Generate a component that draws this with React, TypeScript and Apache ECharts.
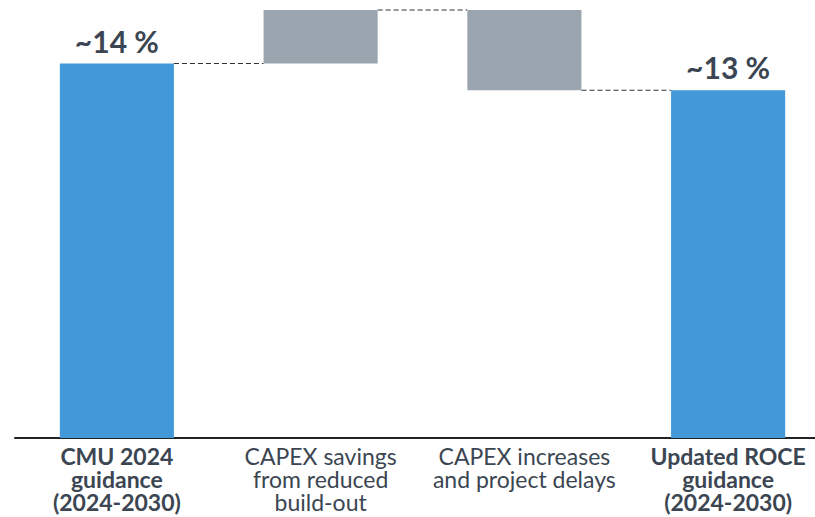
import React, { useEffect, useRef } from "react";
import * as echarts from "echarts";

const categories = [
  "CMU 2024\nguidance\n(2024-2030)",
  "CAPEX savings\nfrom reduced\nbuild-out",
  "CAPEX increases\nand project delays",
  "Updated ROCE\nguidance\n(2024-2030)",
];
const boldCategories = [true, false, false, true];
const baseValues = [0, 14, 13, 0];
const barValues = [14, 2, 3, 13];
const connectorLevels = [14, 16, 13];
const valueLabels = ["~14 %", "", "", "~13 %"];
const isTotal = [true, false, false, true];

const BLUE = "#4398da";
const GREY = "#9ba5af";
const TEXT = "#3b4652";

export default function App() {
  const ref = useRef<HTMLDivElement>(null);
  useEffect(() => {
    if (!ref.current) return;
    const chart = echarts.init(ref.current, null, { renderer: "svg" });
    const barWidthRatio = 0.56;
    chart.setOption({
      animation: false,
      grid: { left: 15, right: 0, top: 10, bottom: 79, containLabel: false },
      xAxis: {
        type: "category",
        data: categories.map((c, i) => ({
          value: c,
          textStyle: { fontWeight: boldCategories[i] ? "bold" : "normal" },
        })),
        axisTick: { show: false },
        axisLine: { show: true, lineStyle: { color: "#222", width: 2 } },
        axisLabel: {
          margin: 6,
          interval: 0,
          color: TEXT,
          fontFamily: "Lato",
          fontSize: 23,
          lineHeight: 23,
        },
      },
      yAxis: {
        type: "value",
        min: 0,
        max: 16,
        show: false,
        splitLine: { show: false },
      },
      series: [
        {
          type: "bar",
          stack: "w",
          data: baseValues,
          itemStyle: { color: "transparent" },
          barWidth: "56%",
          silent: true,
        },
        {
          type: "bar",
          stack: "w",
          barWidth: "56%",
          data: barValues.map((v, i) => ({
            value: v,
            itemStyle: { color: isTotal[i] ? BLUE : GREY },
            label: {
              show: valueLabels[i] !== "",
              position: "top",
              distance: 8,
              formatter: valueLabels[i],
              color: TEXT,
              fontFamily: "Lato",
              fontWeight: "bold",
              fontSize: 30,
            },
          })),
        },
        {
          type: "custom",
          data: connectorLevels.map((lv, i) => [i, lv]),
          renderItem: (params: any, api: any) => {
            const i = api.value(0);
            const lv = api.value(1);
            const p1 = api.coord([i, lv]);
            const p2 = api.coord([i + 1, lv]);
            const bw = api.size([1, 0])[0] * barWidthRatio;
            return {
              type: "line",
              shape: { x1: p1[0] + bw / 2, y1: p1[1], x2: p2[0] - bw / 2, y2: p2[1] },
              style: { stroke: "#333", lineWidth: 1, lineDash: [5, 3] },
            };
          },
        },
      ],
    });
    return () => chart.dispose();
  }, []);
  return (
    <div style={{ position: "fixed", left: 0, top: 0, width: 815, height: 517, overflow: "hidden", background: "#fff" }}>
      <div ref={ref} style={{ width: 830, height: 517 }} />
    </div>
  );
}
